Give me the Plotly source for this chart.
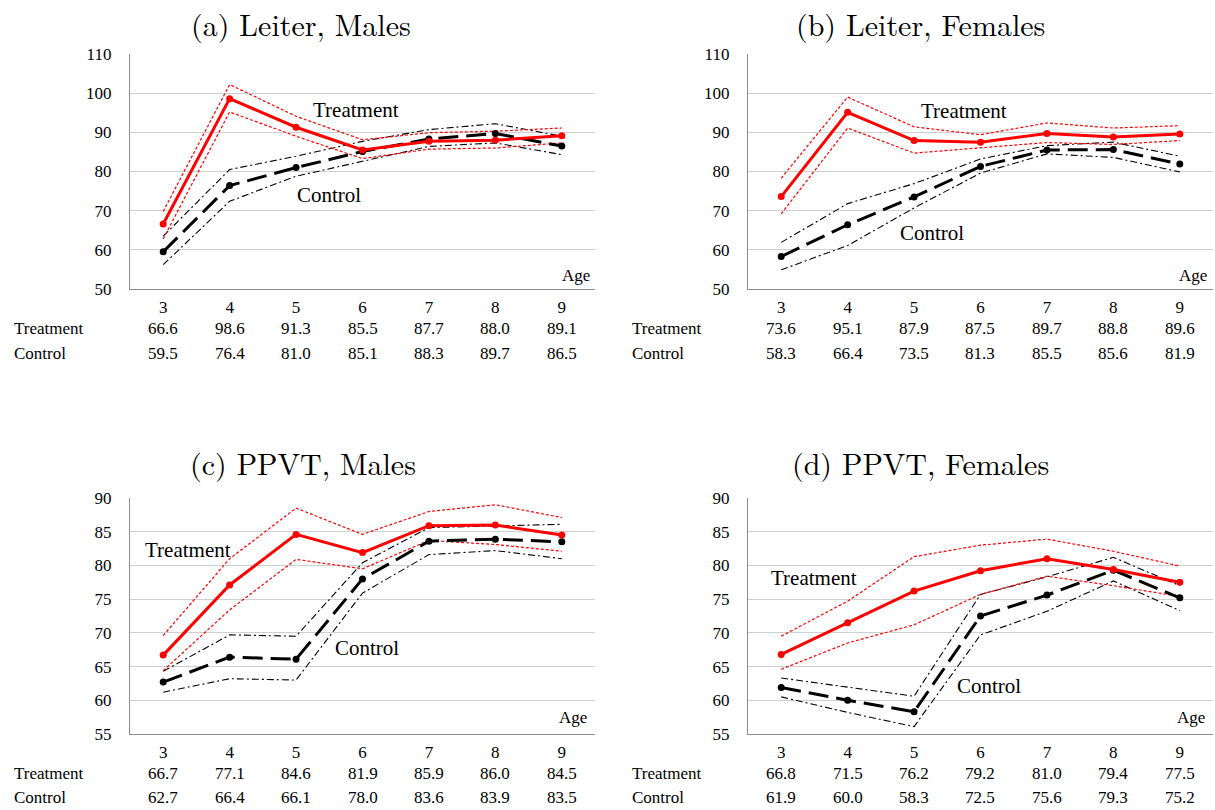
import plotly.graph_objects as go

ages = [3, 4, 5, 6, 7, 8, 9]

# (a) Leiter, Males
a_treat = [66.6, 98.6, 91.3, 85.5, 87.7, 88.0, 89.1]
a_ctrl = [59.5, 76.4, 81.0, 85.1, 88.3, 89.7, 86.5]
a_treat_hi = [69.8, 102.2, 94.1, 88.1, 89.9, 90.3, 91.1]
a_treat_lo = [62.8, 95.2, 89.0, 83.3, 85.7, 86.0, 87.3]
a_ctrl_hi = [63.5, 80.5, 83.9, 87.7, 90.7, 92.2, 89.0]
a_ctrl_lo = [56.2, 72.4, 78.8, 82.6, 86.4, 87.3, 84.3]

# (b) Leiter, Females
b_treat = [73.6, 95.1, 87.9, 87.5, 89.7, 88.8, 89.6]
b_ctrl = [58.3, 66.4, 73.5, 81.3, 85.5, 85.6, 81.9]
b_treat_hi = [78.3, 99.0, 91.4, 89.4, 92.4, 91.1, 91.7]
b_treat_lo = [69.2, 91.1, 84.7, 86.0, 87.4, 86.9, 87.9]
b_ctrl_hi = [61.9, 71.8, 76.9, 83.2, 86.6, 87.5, 83.9]
b_ctrl_lo = [54.9, 61.1, 70.7, 79.6, 84.5, 83.6, 79.9]

# (c) PPVT, Males
c_treat = [66.7, 77.1, 84.6, 81.9, 85.9, 86.0, 84.5]
c_ctrl = [62.7, 66.4, 66.1, 78.0, 83.6, 83.9, 83.5]
c_treat_hi = [69.6, 81.0, 88.5, 84.6, 88.0, 89.0, 87.1]
c_treat_lo = [64.4, 73.4, 80.9, 79.5, 83.7, 83.1, 82.1]
c_ctrl_hi = [64.3, 69.7, 69.5, 80.4, 85.6, 85.8, 86.1]
c_ctrl_lo = [61.2, 63.2, 63.0, 75.9, 81.6, 82.2, 81.0]

# (d) PPVT, Females
d_treat = [66.8, 71.5, 76.2, 79.2, 81.0, 79.4, 77.5]
d_ctrl = [61.9, 60.0, 58.3, 72.5, 75.6, 79.3, 75.2]
d_treat_hi = [69.5, 74.7, 81.3, 83.0, 83.9, 82.1, 79.9]
d_treat_lo = [64.6, 68.5, 71.2, 75.7, 78.4, 77.0, 75.4]
d_ctrl_hi = [63.3, 62.0, 60.6, 75.7, 78.3, 81.2, 77.0]
d_ctrl_lo = [60.5, 58.2, 56.1, 69.7, 73.2, 77.7, 73.3]

titles = ["(a) Leiter, Males", "(b) Leiter, Females", "(c) PPVT, Males", "(d) PPVT, Females"]

W, H = 1215, 810
SERIF = "Liberation Serif"
TITLEFONT = "Latin Modern Roman"


def px_x(p):
    return p / W


def px_y(p):
    return 1 - p / H


panels = [
    dict(title=titles[0], treat=a_treat, ctrl=a_ctrl, th=a_treat_hi, tl=a_treat_lo, ch=a_ctrl_hi, cl=a_ctrl_lo,
         xpx=(130, 595), ypx=(54, 289), yr=(50, 110), dt=10, tpos=(5.9, 95.7), cpos=(5.49, 74.0),
         agepos=(9.21, 53.4), titlepx=(301, 0), tanchor="top", rows=(329, 353), lblx=12),
    dict(title=titles[1], treat=b_treat, ctrl=b_ctrl, th=b_treat_hi, tl=b_treat_lo, ch=b_ctrl_hi, cl=b_ctrl_lo,
         xpx=(748, 1213), ypx=(54, 289), yr=(50, 110), dt=10, tpos=(5.75, 95.5), cpos=(5.27, 64.3),
         agepos=(9.2, 53.4), titlepx=(921, 0), tanchor="top", rows=(329, 353), lblx=630),
    dict(title=titles[2], treat=c_treat, ctrl=c_ctrl, th=c_treat_hi, tl=c_treat_lo, ch=c_ctrl_hi, cl=c_ctrl_lo,
         xpx=(130, 595), ypx=(498, 734), yr=(55, 90), dt=5, tpos=(3.37, 82.3), cpos=(6.07, 67.7),
         agepos=(9.17, 57.5), titlepx=(303, 462), tanchor="middle", rows=(773, 797), lblx=12),
    dict(title=titles[3], treat=d_treat, ctrl=d_ctrl, th=d_treat_hi, tl=d_treat_lo, ch=d_ctrl_hi, cl=d_ctrl_lo,
         xpx=(748, 1213), ypx=(498, 734), yr=(55, 90), dt=5, tpos=(3.5, 78.1), cpos=(6.13, 62.1),
         agepos=(9.17, 57.5), titlepx=(921, 462), tanchor="middle", rows=(773, 797), lblx=630),
]

fig = go.Figure()
annotations = []
layout_axes = {}

for i, p in enumerate(panels, start=1):
    xa = "x" if i == 1 else f"x{i}"
    ya = "y" if i == 1 else f"y{i}"
    xkey = "xaxis" if i == 1 else f"xaxis{i}"
    ykey = "yaxis" if i == 1 else f"yaxis{i}"

    def add(y, color, width, dash, mode="lines", msize=0):
        fig.add_trace(go.Scatter(
            x=ages, y=y, mode=mode, xaxis=xa, yaxis=ya, showlegend=False,
            line=dict(color=color, width=width, dash=dash),
            marker=dict(size=msize, color=color), hoverinfo="skip"))

    add(p["ch"], "black", 1.1, "7px,3px,2px,3px")
    add(p["cl"], "black", 1.1, "7px,3px,2px,3px")
    add(p["th"], "#ff0000", 1.2, "3px,2px")
    add(p["tl"], "#ff0000", 1.2, "3px,2px")
    add(p["ctrl"], "black", 3, "20px,8px", mode="lines+markers", msize=7)
    add(p["treat"], "#ff0000", 3, "solid", mode="lines+markers", msize=7)

    layout_axes[xkey] = dict(
        domain=[px_x(p["xpx"][0]), px_x(p["xpx"][1])], anchor=ya,
        range=[2.5, 9.5], tickvals=ages, ticktext=[str(a) for a in ages],
        showgrid=False, zeroline=False, showline=True, linecolor="#8c8c8c", linewidth=1.3,
        ticks="", tickfont=dict(family=SERIF, size=17, color="black"), ticklabelstandoff=2,
        fixedrange=True, automargin=False)
    layout_axes[ykey] = dict(
        domain=[px_y(p["ypx"][1]), px_y(p["ypx"][0])], anchor=xa,
        range=list(p["yr"]), dtick=p["dt"], tick0=p["yr"][0],
        showgrid=True, gridcolor="#cfcfcf", gridwidth=1.3, zeroline=False,
        showline=True, linecolor="#8c8c8c", linewidth=1.3,
        ticks="", tickfont=dict(family=SERIF, size=17, color="black"), ticklabelstandoff=14,
        fixedrange=True, automargin=False)

    # title
    annotations.append(dict(text=p["title"], x=px_x(p["titlepx"][0]), y=px_y(p["titlepx"][1]),
                            xref="paper", yref="paper", showarrow=False, xanchor="center", yanchor=p["tanchor"],
                            font=dict(family=TITLEFONT, size=30, color="black")))
    # series labels
    annotations.append(dict(text="Treatment", x=p["tpos"][0], y=p["tpos"][1], xref=xa, yref=ya,
                            showarrow=False, font=dict(family=SERIF, size=21, color="black")))
    annotations.append(dict(text="Control", x=p["cpos"][0], y=p["cpos"][1], xref=xa, yref=ya,
                            showarrow=False, font=dict(family=SERIF, size=21, color="black")))
    annotations.append(dict(text="Age", x=p["agepos"][0], y=p["agepos"][1], xref=xa, yref=ya,
                            showarrow=False, font=dict(family=SERIF, size=17, color="black")))
    # table rows
    for rowname, vals, rowpx in (("Treatment", p["treat"], p["rows"][0]), ("Control", p["ctrl"], p["rows"][1])):
        annotations.append(dict(text=rowname, x=px_x(p["lblx"]), y=px_y(rowpx), xref="paper", yref="paper",
                                showarrow=False, xanchor="left", yanchor="middle",
                                font=dict(family=SERIF, size=17, color="black")))
        for a, v in zip(ages, vals):
            annotations.append(dict(text=f"{v:.1f}", x=a, y=px_y(rowpx), xref=xa, yref="paper",
                                    showarrow=False, xanchor="center", yanchor="middle",
                                    font=dict(family=SERIF, size=17, color="black")))

fig.update_layout(
    width=W, height=H, margin=dict(l=0, r=0, t=0, b=0, autoexpand=False),
    paper_bgcolor="white", plot_bgcolor="white",
    annotations=annotations, **layout_axes)

fig.write_html("out.html")
